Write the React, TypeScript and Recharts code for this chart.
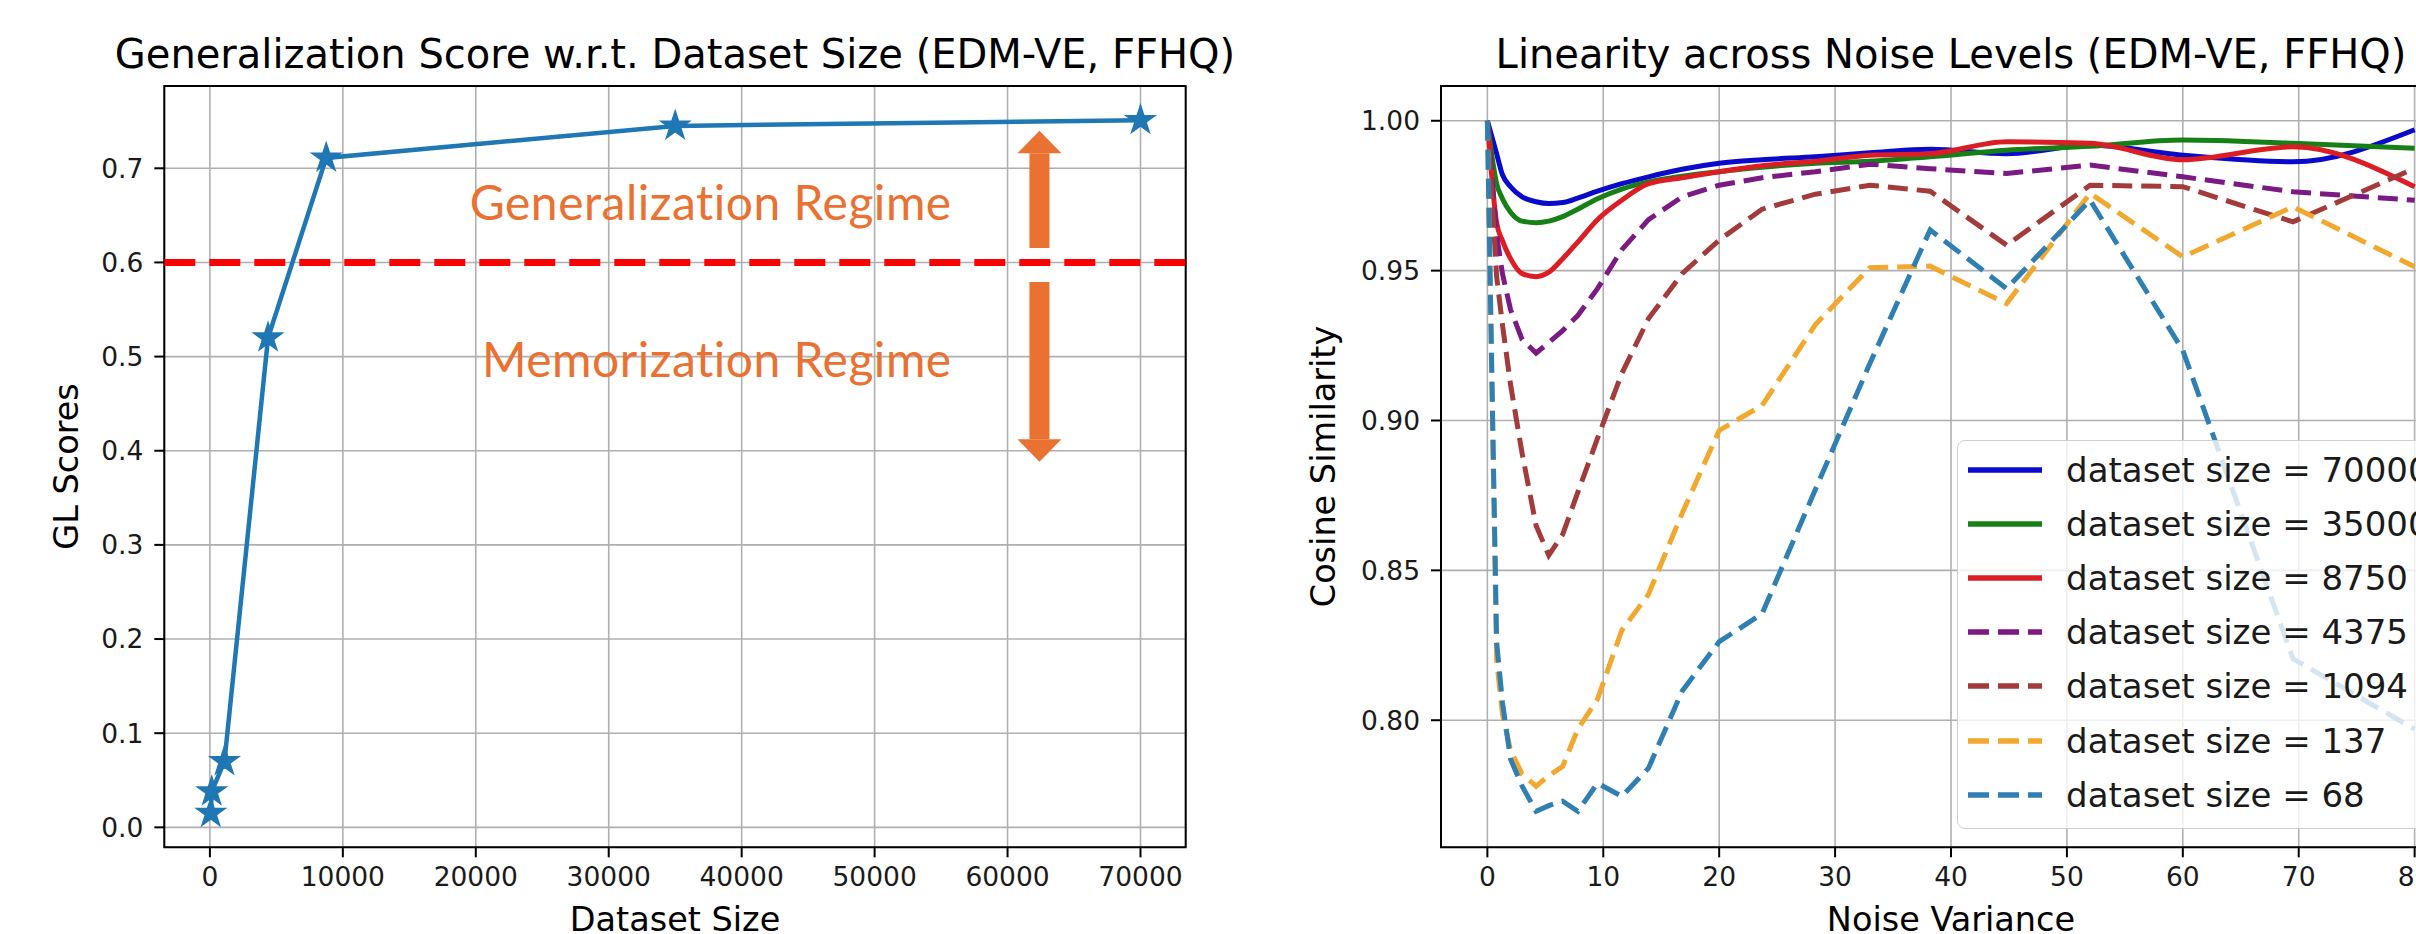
import React from 'react';
import {
  CartesianGrid,
  Legend,
  Line,
  LineChart,
  ReferenceArea,
  ReferenceDot,
  ReferenceLine,
  XAxis,
  YAxis,
} from 'recharts';

// ---- left panel: GL score vs dataset size ----
const datasetSizes = [68, 137, 1094, 4375, 8750, 35000, 70000];
const glScores = [0.015, 0.038, 0.07, 0.52, 0.711, 0.745, 0.751];
const sizeTicks = [0, 10000, 20000, 30000, 40000, 50000, 60000, 70000];
const glTicks = [0, 0.1, 0.2, 0.3, 0.4, 0.5, 0.6, 0.7];
const glThreshold = 0.6;

// annotation anchors (data coords)
const regimeTextX = 55800;
const generalizationTextY = 0.645;
const memorizationTextY = 0.478;
const arrowX = 62400;
const upArrow = { tip: 0.7399, base: 0.7159, tail: 0.6153 };
const downArrow = { tip: 0.3883, base: 0.4121, tail: 0.5792 };

// ---- right panel: cosine similarity vs noise variance ----
const noiseVariance = [0, 0.8, 1.3, 2, 3, 4.2, 5.3, 6.5, 7.8, 9.5, 11.6, 13.9, 16.8, 20, 23.7, 28.3, 33, 38.2, 44.8, 52, 60, 69.5, 80];
const cos70000 = [1.0, 0.989, 0.982, 0.978, 0.9746, 0.973, 0.9724, 0.9727, 0.9742, 0.9765, 0.979, 0.9813, 0.9838, 0.9858, 0.987, 0.988, 0.9893, 0.9905, 0.989, 0.9918, 0.9885, 0.9863, 0.997];
const cos35000 = [1.0, 0.979, 0.974, 0.9695, 0.9665, 0.966, 0.9665, 0.968, 0.9705, 0.974, 0.9772, 0.9796, 0.9815, 0.983, 0.9845, 0.9858, 0.9865, 0.988, 0.9902, 0.9915, 0.9936, 0.9925, 0.9908];
const cos8750 = [1.0, 0.966, 0.96, 0.954, 0.949, 0.948, 0.9495, 0.954, 0.9595, 0.967, 0.9735, 0.979, 0.981, 0.983, 0.985, 0.9865, 0.9885, 0.989, 0.993, 0.9925, 0.987, 0.9913, 0.978];
const cos4375 = [1.0, 0.962, 0.949, 0.937, 0.927, 0.9225, 0.926, 0.93, 0.935, 0.944, 0.957, 0.967, 0.9746, 0.9785, 0.981, 0.983, 0.9855, 0.984, 0.9824, 0.9852, 0.9813, 0.9763, 0.9735];
const cos1094 = [1.0, 0.948, 0.932, 0.912, 0.889, 0.865, 0.855, 0.862, 0.876, 0.894, 0.9157, 0.934, 0.949, 0.9602, 0.9705, 0.9755, 0.9785, 0.9765, 0.9585, 0.9785, 0.978, 0.9663, 0.9841];
const cos137 = [1.0, 0.82, 0.802, 0.79, 0.782, 0.778, 0.7815, 0.7846, 0.797, 0.807, 0.83, 0.842, 0.869, 0.8967, 0.905, 0.932, 0.951, 0.9515, 0.939, 0.9758, 0.9546, 0.9713, 0.9513];
const cos68 = [1.0, 0.826, 0.806, 0.787, 0.778, 0.7696, 0.7715, 0.773, 0.7696, 0.779, 0.7746, 0.784, 0.8097, 0.8262, 0.8355, 0.877, 0.919, 0.9636, 0.944, 0.9735, 0.9234, 0.8205, 0.797];
const noiseTicks = [0, 10, 20, 30, 40, 50, 60, 70, 80];
const cosTicks = [0.8, 0.85, 0.9, 0.95, 1.0];

const series = [
  { key: 's70000', label: 'dataset size = 70000', values: cos70000, color: '#0a0acc', dashed: false },
  { key: 's35000', label: 'dataset size = 35000', values: cos35000, color: '#168016', dashed: false },
  { key: 's8750', label: 'dataset size = 8750', values: cos8750, color: '#dc1e24', dashed: false },
  { key: 's4375', label: 'dataset size = 4375', values: cos4375, color: '#7a1a82', dashed: true },
  { key: 's1094', label: 'dataset size = 1094', values: cos1094, color: '#a33b3b', dashed: true },
  { key: 's137', label: 'dataset size = 137', values: cos137, color: '#f2a72e', dashed: true },
  { key: 's68', label: 'dataset size = 68', values: cos68, color: '#2f7fb3', dashed: true },
];

const glData = datasetSizes.map((size, i) => ({ size, gl: glScores[i] }));
const noiseData = noiseVariance.map((x, i) => {
  const row: Record<string, number> = { x };
  series.forEach((s) => (row[s.key] = s.values[i]));
  return row;
});

const FONT = 'DejaVu Sans';
const ORANGE = '#E97132';
const tickStyle = { fontSize: 26.5, fill: '#1a1a1a', fontFamily: FONT };
const tickLine = { stroke: '#000', strokeWidth: 2 };
const DASH = '20 9';

const StarDot = (props: any) => {
  const { cx, cy } = props;
  if (cx == null || cy == null) return null;
  const R = 15;
  const r = R * 0.382;
  const pts: string[] = [];
  for (let i = 0; i < 10; i++) {
    const a = -Math.PI / 2 + (i * Math.PI) / 5;
    const rad = i % 2 === 0 ? R : r;
    pts.push(`${cx + rad * Math.cos(a)},${cy + rad * Math.sin(a)}`);
  }
  return <polygon points={pts.join(' ')} fill="#1f77b4" stroke="#1f77b4" strokeWidth={1.5} />;
};

const arrowHead = (dir: 1 | -1) => (props: any) => {
  const { cx, cy } = props;
  // dir 1 = pointing up, tip at (cx, cy)
  const h = 22.5 * dir;
  return <polygon points={`${cx},${cy} ${cx - 22},${cy + h} ${cx + 22},${cy + h}`} fill={ORANGE} />;
};

const regimeText = (text: string) => (props: any) => (
  <text x={props.cx} y={props.cy} textAnchor="end" fontFamily="Lato" fontSize={48} letterSpacing={0.5} fill={ORANGE}>
    {text}
  </text>
);

const NoiseLegend = () => (
  <div
    style={{
      boxSizing: 'border-box',
      width: 490,
      padding: '1.8px 0 6px 0',
      border: '1.5px solid #cfcfcf',
      borderRadius: 8,
      background: 'rgba(255,255,255,0.8)',
      fontFamily: FONT,
      fontSize: 34,
      color: '#1a1a1a',
    }}
  >
    {series.map((s) => (
      <div key={s.key} style={{ display: 'flex', alignItems: 'center', height: 54.15, lineHeight: '54.15px', whiteSpace: 'nowrap' }}>
        <svg width={74} height={10} style={{ marginLeft: 10.8, marginRight: 23.8, flex: 'none' }}>
          <line x1={0} y1={5} x2={74} y2={5} stroke={s.color} strokeWidth={5.5} strokeDasharray={s.dashed ? '21 9' : undefined} />
        </svg>
        <span>{s.label}</span>
      </div>
    ))}
  </div>
);

const App = () => {
  const glX: [number, number] = [-3430, 73400];
  const glY: [number, number] = [-0.0212, 0.7874];
  const nX: [number, number] = [-4, 84];
  const nY: [number, number] = [0.7576, 1.0116];

  return (
    <div style={{ position: 'absolute', left: 0, top: 0, width: 2416, height: 934, overflow: 'hidden', background: '#fff' }}>
      <div style={{ position: 'absolute', left: 0, top: 0 }}>
        <LineChart width={1250} height={934} data={glData} margin={{ top: 86, right: 64.3, bottom: 36.7, left: 84.3 }}>
          <CartesianGrid stroke="#b0b0b0" strokeWidth={1.6} />
          <XAxis
            type="number"
            dataKey="size"
            domain={glX}
            ticks={sizeTicks}
            allowDataOverflow
            interval={0}
            height={50}
            tick={tickStyle}
            tickLine={tickLine}
            tickSize={10}
            tickMargin={10}
            axisLine={false}
          />
          <YAxis
            type="number"
            domain={glY}
            ticks={glTicks}
            allowDataOverflow
            interval={0}
            width={80}
            tick={tickStyle}
            tickLine={tickLine}
            tickSize={10}
            tickMargin={11}
            axisLine={false}
            tickFormatter={(v: number) => v.toFixed(1)}
          />
          <ReferenceArea x1={glX[0]} x2={glX[1]} y1={glY[0]} y2={glY[1]} fill="none" stroke="#000" strokeWidth={2} ifOverflow="visible" />
          <ReferenceLine y={glThreshold} stroke="#ff0000" strokeWidth={7} strokeDasharray="31 14" />
          <ReferenceLine segment={[{ x: arrowX, y: upArrow.base }, { x: arrowX, y: upArrow.tail }]} stroke={ORANGE} strokeWidth={20} />
          <ReferenceLine segment={[{ x: arrowX, y: downArrow.base }, { x: arrowX, y: downArrow.tail }]} stroke={ORANGE} strokeWidth={20} />
          <ReferenceDot x={arrowX} y={upArrow.tip} shape={arrowHead(1)} />
          <ReferenceDot x={arrowX} y={downArrow.tip} shape={arrowHead(-1)} />
          <ReferenceDot x={regimeTextX} y={generalizationTextY} shape={regimeText('Generalization Regime')} />
          <ReferenceDot x={regimeTextX} y={memorizationTextY} shape={regimeText('Memorization Regime')} />
          <Line
            type="linear"
            dataKey="gl"
            stroke="#1f77b4"
            strokeWidth={4.5}
            dot={(p: any) => <StarDot key={`star-${p.index}`} {...p} />}
            activeDot={false}
            isAnimationActive={false}
          />
        </LineChart>
      </div>

      <div style={{ position: 'absolute', left: 1290, top: 0 }}>
        <LineChart width={1210} height={934} data={noiseData} margin={{ top: 86, right: 39, bottom: 36.7, left: 71 }}>
          <CartesianGrid stroke="#b0b0b0" strokeWidth={1.6} />
          <XAxis
            type="number"
            dataKey="x"
            domain={nX}
            ticks={noiseTicks}
            allowDataOverflow
            interval={0}
            height={50}
            tick={tickStyle}
            tickLine={tickLine}
            tickSize={10}
            tickMargin={10}
            axisLine={false}
          />
          <YAxis
            type="number"
            domain={nY}
            ticks={cosTicks}
            allowDataOverflow
            interval={0}
            width={80}
            tick={tickStyle}
            tickLine={tickLine}
            tickSize={10}
            tickMargin={11}
            axisLine={false}
            tickFormatter={(v: number) => v.toFixed(2)}
          />
          <ReferenceArea x1={nX[0]} x2={nX[1]} y1={nY[0]} y2={nY[1]} fill="none" stroke="#000" strokeWidth={2} ifOverflow="visible" />
          {series.map((s) => (
            <Line
              key={s.key}
              type={s.dashed ? 'linear' : 'monotone'}
              dataKey={s.key}
              stroke={s.color}
              strokeWidth={5}
              strokeDasharray={s.dashed ? DASH : undefined}
              dot={false}
              activeDot={false}
              isAnimationActive={false}
            />
          ))}
          <Legend
            layout="vertical"
            align="center"
            verticalAlign="middle"
            wrapperStyle={{ left: 666.5, top: 440, width: 490, height: 'auto' }}
            content={() => <NoiseLegend />}
          />
        </LineChart>
      </div>

      <svg width={2416} height={934} style={{ position: 'absolute', left: 0, top: 0, pointerEvents: 'none' }} fontFamily={FONT} fill="#000">
        <text x={675} y={68} textAnchor="middle" fontSize={40}>Generalization Score w.r.t. Dataset Size (EDM-VE, FFHQ)</text>
        <text x={1951} y={68} textAnchor="middle" fontSize={40}>Linearity across Noise Levels (EDM-VE, FFHQ)</text>
        <text x={675} y={931} textAnchor="middle" fontSize={33.5}>Dataset Size</text>
        <text x={1951} y={931} textAnchor="middle" fontSize={33.5}>Noise Variance</text>
        <text transform="translate(77.5 466.5) rotate(-90)" textAnchor="middle" fontSize={33.5}>GL Scores</text>
        <text transform="translate(1335 466.5) rotate(-90)" textAnchor="middle" fontSize={33.5}>Cosine Similarity</text>
      </svg>
    </div>
  );
};

export default App;
